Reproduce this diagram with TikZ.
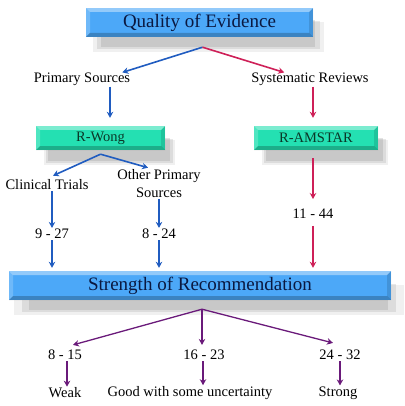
\documentclass[tikz,border=0pt]{standalone}
\usepackage{fontspec}
\setmainfont{Liberation Serif}
\usetikzlibrary{arrows.meta}
\usetikzlibrary{shadows}

\definecolor{boxblue}{RGB}{76,168,248}
\definecolor{boxteal}{RGB}{36,224,178}
\definecolor{bluetext}{RGB}{10,24,64}
\definecolor{tealtext}{RGB}{10,56,40}
\definecolor{arrblue}{RGB}{32,92,192}
\definecolor{arrred}{RGB}{206,32,88}
\definecolor{arrpurple}{RGB}{106,26,122}

\tikzset{
  bevelbox/.style={rectangle,
    drop shadow={shadow xshift=9pt,shadow yshift=-14pt,shadow scale=1.02,fill=gray,opacity=0.12},
    drop shadow={shadow xshift=9pt,shadow yshift=-13pt,shadow scale=0.98,fill=gray,opacity=0.18},
    drop shadow={shadow xshift=9pt,shadow yshift=-12pt,shadow scale=0.94,fill=gray,opacity=0.22},
    path picture={
      \coordinate (bb-nw) at (path picture bounding box.north west);
      \coordinate (bb-ne) at (path picture bounding box.north east);
      \coordinate (bb-sw) at (path picture bounding box.south west);
      \coordinate (bb-se) at (path picture bounding box.south east);
      \fill[white,opacity=0.4] (bb-nw) -- (bb-ne) -- ([xshift=-4pt,yshift=-4pt]bb-ne) -- ([xshift=4pt,yshift=-4pt]bb-nw) -- cycle;
      \fill[white,opacity=0.2] (bb-nw) -- (bb-sw) -- ([xshift=4pt,yshift=4pt]bb-sw) -- ([xshift=4pt,yshift=-4pt]bb-nw) -- cycle;
      \fill[black,opacity=0.12] (bb-ne) -- (bb-se) -- ([xshift=-4pt,yshift=4pt]bb-se) -- ([xshift=-4pt,yshift=-4pt]bb-ne) -- cycle;
      \fill[black,opacity=0.22] (bb-sw) -- (bb-se) -- ([xshift=-4pt,yshift=4pt]bb-se) -- ([xshift=4pt,yshift=4pt]bb-sw) -- cycle;
    }},
  bluebox/.style={bevelbox,fill=boxblue,text=bluetext,font=\fontsize{19}{21}\selectfont},
  tealbox/.style={bevelbox,fill=boxteal,text=tealtext,font=\fontsize{14.5}{16}\selectfont},
  txt/.style={inner sep=1pt,font=\fontsize{14.5}{18}\selectfont,align=center},
  arr/.style={line width=1.6pt,-{Stealth[length=6pt,width=6.5pt]}},
  bluearr/.style={arr,color=arrblue},
  redarr/.style={arr,color=arrred},
  purparr/.style={arr,color=arrpurple,line width=1.3pt}
}

\begin{document}
\begin{tikzpicture}[x=1pt,y=-1pt]
    \useasboundingbox (0,0) rectangle (404,406);

    % Boxes
    \node (qoe) [bluebox,minimum width=227pt,minimum height=29pt] at (199.5,22.5) {Quality of Evidence};
    \node (rwong) [tealbox,minimum width=129pt,minimum height=24pt] at (100.5,138) {R-Wong};
    \node (ramstar) [tealbox,minimum width=124pt,minimum height=24pt] at (316,138) {R-AMSTAR};
    \node (sor) [bluebox,minimum width=382pt,minimum height=29pt] at (200,285.5) {Strength of Recommendation};

    % Labels
    \node (prim) [txt] at (82,79) {Primary Sources};
    \node (sys) [txt] at (310,79) {Systematic Reviews};
    \node (clin) [txt] at (47,185) {Clinical Trials};
    \node (other) [txt] at (159,184) {Other Primary\\Sources};
    \node (n927) [txt] at (52,234) {9 - 27};
    \node (n824) [txt] at (159,234) {8 - 24};
    \node (n1144) [txt] at (313,214) {11 - 44};
    \node (n815) [txt] at (65,355) {8 - 15};
    \node (n1623) [txt] at (204,355) {16 - 23};
    \node (n2432) [txt] at (340,355) {24 - 32};
    \node (weak) [txt] at (65,393) {Weak};
    \node (good) [txt] at (190,393) {Good with some uncertainty};
    \node (strong) [txt] at (338,393) {Strong};

    % Branch points
    \coordinate (qoe-out) at ([xshift=3pt,yshift=-10pt]qoe.south);
    \coordinate (rwong-out) at ([yshift=-4pt]rwong.south);
    \coordinate (sor-out) at ([xshift=2pt,yshift=-9pt]sor.south);

    % Quality of Evidence
    \draw [bluearr] (qoe-out) -- ([xshift=-9pt,yshift=-1pt]prim.north east);
    \draw [redarr] (qoe-out) -- ([xshift=34pt,yshift=-1pt]sys.north west);
    \draw [bluearr] ([xshift=28pt]prim.south) -- ([xshift=9.5pt,yshift=8pt]rwong.north);
    \draw [redarr] ([xshift=3pt]sys.south) -- ([xshift=-3pt,yshift=8pt]ramstar.north);

    % R-Wong
    \draw [bluearr] (rwong-out) -- ([xshift=6pt,yshift=3pt]clin.north);
    \draw [bluearr] (rwong-out) -- ([xshift=-11pt,yshift=1pt]other.north);
    \draw [bluearr] ([xshift=5pt]clin.south) -- (n927.north);
    \draw [bluearr] (other.south) -- (n824.north);
    \draw [bluearr,shorten >=3pt] (n927.south) -- (n927.south |- sor.north);
    \draw [bluearr,shorten >=3pt] (n824.south) -- (n824.south |- sor.north);

    % R-AMSTAR
    \draw [redarr,shorten <=8pt,shorten >=9pt] ([xshift=-3pt]ramstar.south) -- (n1144.north);
    \draw [redarr,shorten <=6pt,shorten >=3pt] (n1144.south) -- (n1144.south |- sor.north);

    % Strength of Recommendation
    \draw [purparr] (sor-out) -- ([xshift=8pt,yshift=4pt]n815.north);
    \draw [purparr] (sor-out) -- ([xshift=-2pt,yshift=4pt]n1623.north);
    \draw [purparr] (sor-out) -- ([xshift=-7pt,yshift=6pt]n2432.north);
    \draw [purparr] ([xshift=2pt]n815.south) -- ([xshift=2pt]weak.north);
    \draw [purparr] ([xshift=-1pt]n1623.south) -- ([xshift=13pt]good.north);
    \draw [purparr] (n2432.south) -- ([xshift=2pt]strong.north);

\end{tikzpicture}
\end{document}
